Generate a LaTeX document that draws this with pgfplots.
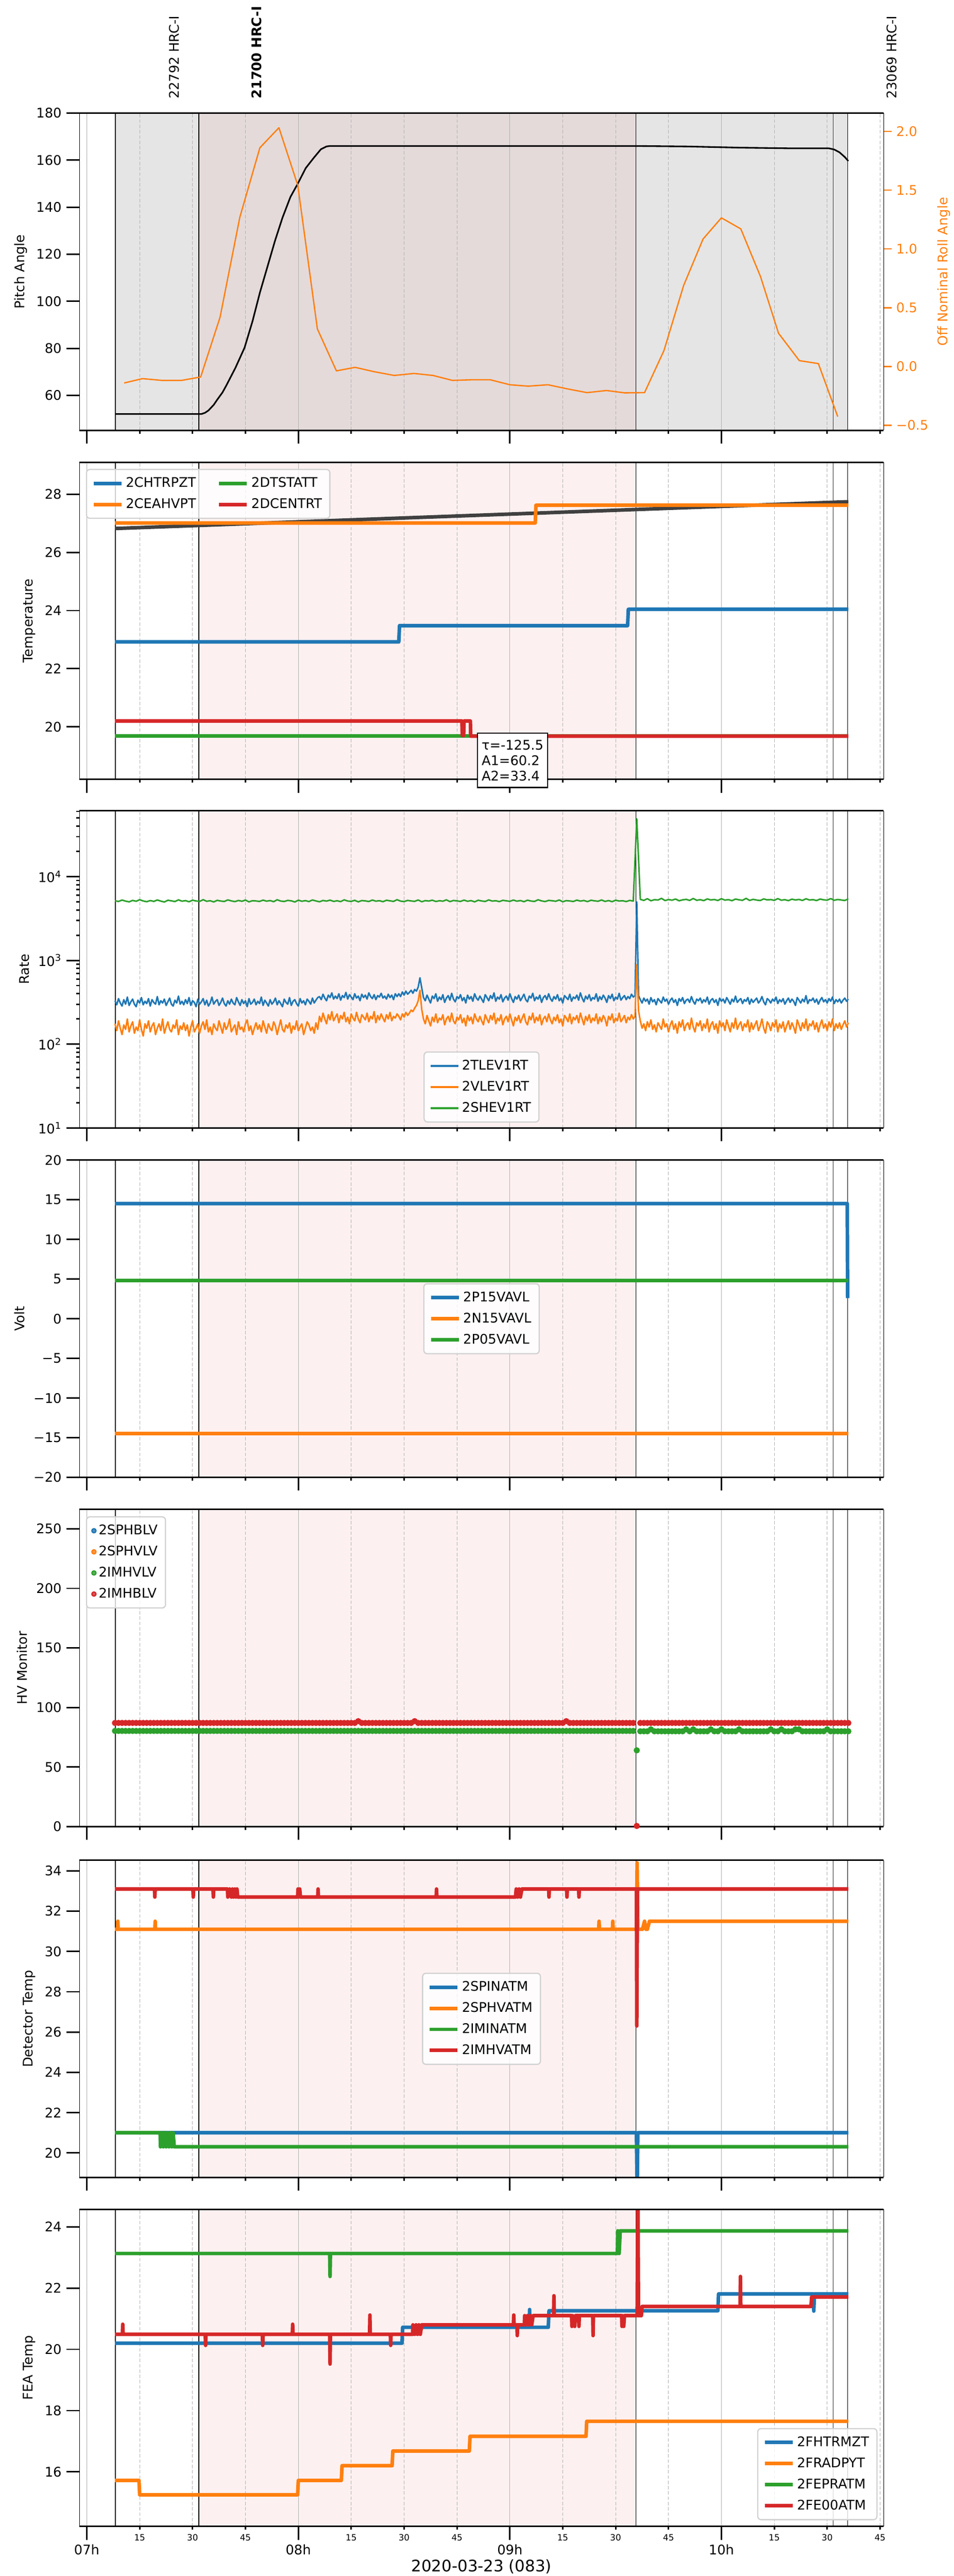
\documentclass[border=0pt]{standalone}
\usepackage{fontspec}
\setmainfont{DejaVu Sans}
\usepackage{pgfplots}
\pgfplotsset{compat=1.18}

\definecolor{tabblue}{HTML}{1F77B4}
\definecolor{taborange}{HTML}{FF7F0E}
\definecolor{tabgreen}{HTML}{2CA02C}
\definecolor{tabred}{HTML}{D62728}
\definecolor{bgpink}{RGB}{253,240,240}
\definecolor{bggray}{RGB}{229,229,229}
\definecolor{bgrose}{RGB}{228,218,218}
\definecolor{gridgray}{RGB}{176,176,176}

\newcommand{\tenpt}{\fontsize{10}{12}\selectfont}

\newcommand{\gridlines}[2]{%
  \pgfplotsinvokeforeach{0,60,120,180}{\draw[gridgray, line width=0.45pt] (axis cs:##1,#1) -- (axis cs:##1,#2);}%
  \pgfplotsinvokeforeach{15,30,45,75,90,105,135,150,165,195,210,225}{\draw[gridgray, line width=0.45pt, dash pattern=on 2.6pt off 1.4pt] (axis cs:##1,#1) -- (axis cs:##1,#2);}%
  \pgfplotsinvokeforeach{8.1,31.8,155.7,215.8}{\draw[black, line width=0.5pt] (axis cs:##1,#1) -- (axis cs:##1,#2);}%
  \draw[black!80, line width=0.4pt] (axis cs:211.7,#1) -- (axis cs:211.7,#2);%
}
\newcommand{\panelbg}[2]{\fill[bgpink] (axis cs:31.8,#1) rectangle (axis cs:155.7,#2);\gridlines{#1}{#2}}
\newcommand{\topbg}[2]{\fill[bggray] (axis cs:8.1,#1) rectangle (axis cs:215.8,#2);\fill[bgrose] (axis cs:31.8,#1) rectangle (axis cs:155.7,#2);\gridlines{#1}{#2}}

\pgfplotsset{
  panel/.style={
    scale only axis, width=606.9pt, height=239.4pt, anchor=north west,
    xmin=-2.07, xmax=226.0,
    xtick={0,60,120,180}, xticklabels={},
    minor xtick={15,30,45,75,90,105,135,150,165,195,210,225},
    tick align=outside, xtick pos=bottom, ytick pos=left,
    major tick length=10pt, minor tick length=2.5pt,
    every tick/.style={black, line width=1.1pt},
    separate axis lines,
    x axis line style={line width=1.1pt},
    y axis line style={line width=0.4pt},
    tick label style={font=\tenpt},
    label style={font=\tenpt},
    /pgf/number format/assume math mode=true,
    axis on top,
    every axis plot/.append style={line join=round},
    legend cell align=left,
    legend image code/.code={\draw[##1] (0pt,0pt) -- (21pt,0pt);},
    legend style={draw=black!18, rounded corners=2.5pt, fill=white, fill opacity=0.8, text opacity=1, line width=0.9pt, font=\tenpt, row sep=3pt, inner sep=4pt},
  }
}

\begin{document}
\begin{tikzpicture}
\path[use as bounding box] (0,0) rectangle (720pt,-1944pt);

% observation labels
\node[rotate=90, anchor=west, font=\tenpt] at (131.4pt,-78.1pt) {22792 HRC-I};
\node[rotate=90, anchor=west, font=\tenpt\bfseries] at (193.7pt,-78.1pt) {21700 HRC-I};
\node[rotate=90, anchor=west, font=\tenpt] at (673.2pt,-78.1pt) {23069 HRC-I};

% ---------------- Panel 1: pitch ----------------
\begin{axis}[panel, at={(60pt,-85.3pt)}, ymin=45.2, ymax=180, ytick={60,80,...,180}, ylabel={Pitch Angle}]
\topbg{45.2}{180}
\addplot[black, line width=1.2pt, forget plot] coordinates {
(8,52.1)(32.5,52.1)(33.5,52.6)(34.5,53.6)(36,56)(37,58.2)(38.5,61.3)(39.6,64.3)(42.15,71.7)(44.75,80.3)(47,91.5)(49.1,103.7)(51.3,115)(53.4,125.8)(55.5,135.5)(57.75,144.3)(59.85,150)(62.1,156.6)(64.4,161)(66.4,164.6)(68,165.8)(69,166)(156,166)(170,165.8)(185,165.3)(200,165)(210.5,165)(212,164.5)(213.5,163.3)(215,161.3)(216,159.6)};
\end{axis}
\begin{axis}[panel, at={(60pt,-85.3pt)}, ymin=-0.542, ymax=2.155, axis x line=none, axis y line*=right, ytick pos=right,
  ytick={-0.5,0,0.5,1,1.5,2}, yticklabels={−0.5,0.0,0.5,1.0,1.5,2.0},
  yticklabel style={taborange}, ylabel={Off Nominal Roll Angle}, ylabel style={taborange},
  major tick length=6pt, every tick/.style={taborange, line width=1pt}]
\addplot[taborange, line width=1pt, forget plot] coordinates {
(10.6,-0.14)(15.8,-0.103)(21.3,-0.118)(26.9,-0.118)(32.3,-0.089)(37.8,0.419)(43.4,1.268)(49.1,1.86)(54.5,2.03)(59.85,1.54)(65.4,0.32)(70.8,-0.037)(76.1,-0.007)(81.5,-0.044)(87.2,-0.076)(92.8,-0.059)(98.2,-0.076)(103.7,-0.118)(108.9,-0.113)(114.5,-0.113)(120.0,-0.155)(125.2,-0.167)(130.8,-0.155)(136.3,-0.19)(141.9,-0.222)(147.4,-0.204)(152.6,-0.224)(158.2,-0.222)(163.7,0.135)(169.3,0.69)(174.8,1.084)(180.0,1.264)(185.5,1.17)(191.1,0.764)(196.2,0.283)(202.1,0.05)(207.5,0.025)(213.0,-0.426)};
\end{axis}

% ---------------- Panel 2: temperature ----------------
\begin{axis}[panel, at={(60pt,-348.8pt)}, ymin=18.19, ymax=29.1, ytick={20,22,...,28}, ylabel={Temperature},
  legend columns=2, legend style={at={(0.008,0.979)}, anchor=north west, /tikz/every even column/.append style={column sep=14pt}}]
\panelbg{18.19}{29.1}
\addplot[black!75, line width=2.7pt, forget plot] coordinates {(8,26.82)(216,27.74)};
\addplot[tabblue, line width=2.7pt, forget plot] coordinates {(8,22.92)(88.5,22.92)(88.7,23.48)(153.4,23.48)(153.6,24.04)(216,24.04)};
\addplot[taborange, line width=2.7pt, forget plot] coordinates {(8,27.01)(127.2,27.01)(127.4,27.62)(216,27.62)};
\addplot[tabgreen, line width=2.7pt, forget plot] coordinates {(8,19.69)(216,19.69)};
\addplot[tabred, line width=2.7pt, forget plot] coordinates {(8,20.2)(106.4,20.2)(106.5,19.7)(106.9,19.7)(107,20.2)(108.8,20.2)(108.9,19.68)(216,19.68)};
\coordinate (ann) at (axis cs:110.7,19.8);
\addlegendimage{tabblue, line width=2.7pt}\addlegendentry{2CHTRPZT}
\addlegendimage{tabgreen, line width=2.7pt}\addlegendentry{2DTSTATT}
\addlegendimage{taborange, line width=2.7pt}\addlegendentry{2CEAHVPT}
\addlegendimage{tabred, line width=2.7pt}\addlegendentry{2DCENTRT}
\end{axis}
\node[draw=black, line width=0.9pt, fill=white, anchor=north west, align=left, inner xsep=3pt, inner ysep=5pt, font=\fontsize{10}{11.7}\selectfont] at (ann) {τ=-125.5\\A1=60.2\\A2=33.4};

% ---------------- Panel 3: rate ----------------
\begin{axis}[panel, at={(60pt,-611.8pt)}, ymode=log, log basis y=10, ymin=10, ymax=61200, ylabel={Rate},
  yticklabel={10\textsuperscript{\pgfmathparse{int(round(\tick))}\pgfmathresult}},
  legend style={at={(0.5,0.017)}, anchor=south}]
\panelbg{10}{61200}
\addplot[tabblue, line width=1.15pt, forget plot] table[header=false, row sep=\\, x expr=\coordindex*0.5+8, y index=0] {
330\\295\\350\\310\\285\\340\\300\\365\\290\\320\\345\\300\\280\\335\\310\\360\\295\\325\\305\\350\\
285\\340\\315\\300\\370\\295\\330\\310\\345\\290\\320\\355\\300\\285\\335\\310\\375\\300\\325\\295\\
340\\305\\360\\290\\330\\315\\280\\345\\300\\320\\350\\295\\335\\285\\310\\365\\300\\325\\340\\290\\
315\\355\\305\\285\\330\\300\\345\\310\\295\\360\\320\\290\\340\\305\\330\\280\\350\\300\\315\\345\\
295\\325\\305\\365\\290\\335\\310\\285\\340\\300\\320\\355\\295\\330\\305\\280\\345\\315\\300\\360\\
290\\325\\340\\305\\285\\350\\310\\330\\295\\345\\325\\300\\355\\310\\335\\360\\
370\\340\\395\\355\\330\\385\\360\\410\\345\\375\\350\\400\\335\\380\\360\\415\\345\\390\\365\\340\\
400\\355\\375\\330\\395\\360\\385\\345\\410\\370\\350\\390\\340\\380\\365\\405\\355\\375\\345\\395\\
360\\385\\340\\400\\370\\
400\\370\\420\\385\\430\\395\\415\\440\\405\\450\\430\\480\\
620\\470\\
360\\330\\385\\345\\310\\375\\350\\400\\325\\365\\340\\390\\315\\355\\380\\335\\405\\345\\320\\370\\
350\\390\\330\\360\\310\\385\\345\\370\\325\\400\\355\\335\\375\\345\\315\\390\\360\\330\\380\\350\\
410\\325\\365\\345\\390\\320\\355\\375\\335\\400\\350\\315\\370\\345\\385\\330\\360\\395\\340\\320\\
375\\355\\405\\330\\365\\345\\385\\315\\360\\380\\340\\400\\350\\325\\370\\345\\390\\330\\355\\310\\
380\\360\\340\\395\\325\\365\\350\\385\\335\\410\\355\\320\\375\\345\\390\\330\\360\\345\\400\\325\\
370\\340\\385\\355\\315\\380\\350\\395\\330\\365\\345\\405\\335\\360\\380\\340\\370\\350\\395\\365\\
380\\
5000\\
380\\340\\310\\355\\325\\345\\300\\360\\320\\340\\295\\350\\330\\310\\365\\325\\345\\300\\335\\355\\
315\\340\\290\\350\\325\\360\\305\\335\\345\\315\\370\\325\\300\\345\\330\\355\\310\\340\\320\\365\\
300\\335\\350\\315\\340\\290\\355\\325\\345\\310\\360\\330\\300\\345\\320\\375\\315\\335\\350\\305\\
340\\325\\360\\300\\345\\315\\335\\355\\310\\330\\370\\320\\295\\350\\335\\310\\345\\325\\365\\305\\
340\\320\\350\\300\\330\\355\\315\\345\\325\\290\\360\\335\\310\\345\\320\\380\\305\\340\\330\\355\\
315\\345\\300\\335\\360\\320\\340\\310\\350\\325\\365\\305\\340\\320\\345\\310\\335\\355\\325\\345\\
};
\addplot[taborange, line width=1.15pt, forget plot] table[header=false, row sep=\\, x expr=\coordindex*0.5+8, y index=0] {
175\\145\\190\\155\\130\\170\\150\\200\\140\\165\\185\\135\\160\\145\\195\\150\\125\\175\\155\\190\\
140\\165\\180\\130\\155\\175\\145\\200\\135\\160\\185\\150\\140\\170\\155\\195\\130\\165\\150\\180\\
145\\170\\125\\160\\190\\140\\155\\175\\135\\165\\185\\150\\195\\140\\160\\130\\175\\155\\145\\190\\
160\\135\\180\\150\\165\\200\\140\\155\\170\\130\\185\\150\\160\\140\\175\\195\\145\\165\\130\\155\\
180\\150\\170\\140\\190\\160\\135\\175\\155\\145\\185\\165\\130\\160\\195\\150\\140\\170\\155\\180\\
135\\165\\150\\190\\145\\160\\175\\130\\155\\185\\170\\145\\160\\135\\180\\150\\
215\\185\\235\\200\\175\\225\\195\\245\\190\\210\\230\\180\\220\\200\\240\\185\\210\\175\\230\\205\\
190\\240\\200\\180\\225\\210\\195\\235\\185\\215\\200\\245\\180\\220\\195\\230\\205\\185\\225\\200\\
240\\190\\215\\205\\230\\
215\\195\\230\\210\\240\\220\\235\\255\\245\\270\\290\\330\\
440\\260\\
200\\175\\220\\190\\165\\210\\185\\230\\180\\205\\195\\225\\170\\200\\215\\185\\235\\190\\175\\210\\
195\\225\\180\\205\\165\\220\\190\\210\\175\\230\\200\\185\\215\\190\\170\\225\\200\\180\\220\\195\\
235\\175\\205\\190\\225\\170\\200\\215\\185\\230\\195\\165\\210\\190\\220\\180\\205\\230\\185\\170\\
215\\195\\235\\180\\210\\190\\225\\170\\200\\215\\185\\230\\195\\175\\210\\190\\225\\180\\200\\165\\
220\\205\\185\\230\\175\\210\\195\\220\\180\\235\\200\\170\\215\\190\\225\\180\\205\\190\\230\\175\\
210\\185\\220\\200\\165\\215\\195\\230\\180\\205\\190\\235\\185\\200\\220\\180\\210\\195\\225\\200\\
215\\
890\\
250\\190\\155\\175\\145\\185\\160\\195\\150\\170\\140\\180\\165\\150\\200\\160\\175\\140\\170\\190\\
150\\175\\135\\185\\160\\195\\145\\170\\180\\150\\205\\160\\140\\180\\165\\190\\145\\175\\155\\200\\
140\\170\\185\\150\\175\\135\\190\\160\\180\\145\\195\\165\\140\\180\\155\\205\\150\\170\\185\\145\\
175\\160\\195\\140\\180\\150\\170\\190\\145\\165\\200\\155\\135\\185\\170\\145\\180\\160\\195\\140\\
175\\155\\185\\140\\165\\190\\150\\180\\160\\135\\195\\170\\145\\180\\155\\200\\145\\175\\165\\190\\
150\\180\\140\\170\\195\\155\\175\\145\\185\\160\\200\\145\\175\\155\\180\\150\\170\\190\\160\\180\\
};
\addplot[tabgreen, line width=1.15pt, forget plot] table[header=false, row sep=\\, x expr=\coordindex+8, y index=0] {
5150\\5050\\5250\\5100\\5000\\5200\\5080\\5300\\5120\\5020\\5180\\5060\\5260\\5100\\4980\\5220\\5140\\5040\\5280\\5090\\
5170\\5010\\5230\\5120\\5060\\5300\\5080\\5150\\4990\\5210\\5110\\5050\\5270\\5130\\5030\\5190\\5080\\5250\\5000\\5160\\
5120\\5060\\5240\\5090\\5180\\5020\\5290\\5110\\5050\\5200\\5140\\4980\\5230\\5080\\5170\\5040\\5260\\5120\\5010\\5190\\
5100\\5240\\5060\\5150\\5030\\5280\\5110\\5070\\5210\\5000\\5180\\5130\\5050\\5250\\5090\\5160\\5020\\5220\\5140\\5060\\
5300\\5100\\5040\\5200\\5120\\5070\\5260\\5010\\5170\\5110\\5230\\5050\\5150\\5090\\5280\\5030\\5190\\5130\\5060\\5240\\
5080\\5170\\5000\\5220\\5120\\5050\\5270\\5100\\5160\\5030\\5210\\5140\\5070\\5250\\5090\\5180\\5020\\5230\\5110\\5060\\
5290\\5130\\5040\\5200\\5150\\5080\\5260\\5010\\5170\\5120\\5050\\5240\\5100\\5190\\5030\\5220\\5140\\5080\\5260\\5060\\
5180\\5020\\5230\\5110\\5150\\5040\\5200\\5100\\
49000\\
5350\\5200\\5450\\5150\\5300\\5250\\5500\\5180\\5320\\5230\\5400\\5150\\5280\\5350\\5200\\5480\\5220\\5300\\5170\\5420\\
5260\\5330\\5190\\5450\\5240\\5310\\5160\\5400\\5280\\5220\\5500\\5200\\5350\\5250\\5180\\5420\\5270\\5320\\5210\\5460\\
5230\\5300\\5170\\5380\\5260\\5340\\5200\\5440\\5250\\5310\\5180\\5400\\5280\\5230\\5470\\5220\\5330\\5260\\5190\\5420\\
};
\addlegendimage{tabblue, line width=1.6pt}\addlegendentry{2TLEV1RT}
\addlegendimage{taborange, line width=1.6pt}\addlegendentry{2VLEV1RT}
\addlegendimage{tabgreen, line width=1.6pt}\addlegendentry{2SHEV1RT}
\end{axis}

% ---------------- Panel 4: volt ----------------
\begin{axis}[panel, at={(60pt,-875.5pt)}, ymin=-20, ymax=20, ytick={-20,-15,...,20},
  yticklabels={−20,−15,−10,−5,0,5,10,15,20}, ylabel={Volt},
  legend style={at={(0.5,0.5)}, anchor=center}]
\panelbg{-20}{20}
\addplot[tabblue, line width=2.7pt, forget plot] coordinates {(8,14.53)(215.7,14.53)(215.8,2.6)};
\addplot[taborange, line width=2.7pt, forget plot] coordinates {(8,-14.47)(216,-14.47)};
\addplot[tabgreen, line width=2.7pt, forget plot] coordinates {(8,4.84)(216,4.84)};
\addlegendimage{tabblue, line width=2.7pt}\addlegendentry{2P15VAVL}
\addlegendimage{taborange, line width=2.7pt}\addlegendentry{2N15VAVL}
\addlegendimage{tabgreen, line width=2.7pt}\addlegendentry{2P05VAVL}
\end{axis}

% ---------------- Panel 5: HV monitor ----------------
\begin{axis}[panel, at={(60pt,-1139.0pt)}, ymin=0, ymax=266.4, ytick={0,50,...,250}, ylabel={HV Monitor},
  legend image code/.code={\draw[#1] plot coordinates {(10pt,0pt)};},
  legend style={at={(0.008,0.978)}, anchor=north west}]
\panelbg{0}{266.4}
\addplot[tabgreen, only marks, mark=*, mark size=2.15pt, forget plot] table[header=false, row sep=\\, x expr=\coordindex+8, y index=0] {
80.3\\80.3\\80.3\\80.3\\80.3\\80.3\\80.3\\80.3\\80.3\\80.3\\
80.3\\80.3\\80.3\\80.3\\80.3\\80.3\\80.3\\80.3\\80.3\\80.3\\
80.3\\80.3\\80.3\\80.3\\80.3\\80.3\\80.3\\80.3\\80.3\\80.3\\
80.3\\80.3\\80.3\\80.3\\80.3\\80.3\\80.3\\80.3\\80.3\\80.3\\
80.3\\80.3\\80.3\\80.3\\80.3\\80.3\\80.3\\80.3\\80.3\\80.3\\
80.3\\80.3\\80.3\\80.3\\80.3\\80.3\\80.3\\80.3\\80.3\\80.3\\
80.3\\80.3\\80.3\\80.3\\80.3\\80.3\\80.3\\80.3\\80.3\\80.3\\
80.3\\80.3\\80.3\\80.3\\80.3\\80.3\\80.3\\80.3\\80.3\\80.3\\
80.3\\80.3\\80.3\\80.3\\80.3\\80.3\\80.3\\80.3\\80.3\\80.3\\
80.3\\80.3\\80.3\\80.3\\80.3\\80.3\\80.3\\80.3\\80.3\\80.3\\
80.3\\80.3\\80.3\\80.3\\80.3\\80.3\\80.3\\80.3\\80.3\\80.3\\
80.3\\80.3\\80.3\\80.3\\80.3\\80.3\\80.3\\80.3\\80.3\\80.3\\
80.3\\80.3\\80.3\\80.3\\80.3\\80.3\\80.3\\80.3\\80.3\\80.3\\
80.3\\80.3\\80.3\\80.3\\80.3\\80.3\\80.3\\80.3\\80.3\\80.3\\
80.3\\80.3\\80.3\\80.3\\80.3\\80.3\\80.3\\80.3\\
64\\
80\\80\\80\\81.6\\80\\80\\80\\80\\80\\80\\
80\\80\\80\\81.6\\80\\81.6\\80\\80\\80\\80\\
81.6\\80\\80\\81.6\\80\\80\\80\\80\\81.6\\80\\
80\\80\\80\\80\\80\\80\\80\\81.6\\80\\80\\
81.6\\80\\80\\80\\81.6\\81.6\\80\\80\\80\\80\\
80\\80\\80\\81.6\\80\\80\\80\\80\\80\\80\\
};
\addplot[tabred, only marks, mark=*, mark size=2.15pt, forget plot] table[header=false, row sep=\\, x expr=\coordindex+8, y index=0] {
87\\87\\87\\87\\87\\87\\87\\87\\87\\87\\
87\\87\\87\\87\\87\\87\\87\\87\\87\\87\\
87\\87\\87\\87\\87\\87\\87\\87\\87\\87\\
87\\87\\87\\87\\87\\87\\87\\87\\87\\87\\
87\\87\\87\\87\\87\\87\\87\\87\\87\\87\\
87\\87\\87\\87\\87\\87\\87\\87\\87\\87\\
87\\87\\87\\87\\87\\87\\87\\87\\87\\
88.5\\
87\\87\\87\\87\\87\\87\\87\\87\\87\\87\\
87\\87\\87\\87\\87\\
88.5\\
87\\87\\87\\87\\87\\87\\87\\87\\87\\87\\
87\\87\\87\\87\\87\\87\\87\\87\\87\\87\\
87\\87\\87\\87\\87\\87\\87\\87\\87\\87\\
87\\87\\87\\87\\87\\87\\87\\87\\87\\87\\
87\\87\\
88.5\\
87\\87\\87\\87\\87\\87\\87\\87\\87\\87\\
87\\87\\87\\87\\87\\87\\87\\87\\87\\
0.5\\
87\\87\\87\\87\\87\\87\\87\\87\\87\\87\\
87\\87\\87\\87\\87\\87\\87\\87\\87\\87\\
87\\87\\87\\87\\87\\87\\87\\87\\87\\87\\
87\\87\\87\\87\\87\\87\\87\\87\\87\\87\\
87\\87\\87\\87\\87\\87\\87\\87\\87\\87\\
87\\87\\87\\87\\87\\87\\87\\87\\87\\87\\
};
\addlegendimage{tabblue, only marks, mark=*, mark size=1.6pt}\addlegendentry{2SPHBLV}
\addlegendimage{taborange, only marks, mark=*, mark size=1.6pt}\addlegendentry{2SPHVLV}
\addlegendimage{tabgreen, only marks, mark=*, mark size=1.6pt}\addlegendentry{2IMHVLV}
\addlegendimage{tabred, only marks, mark=*, mark size=1.6pt}\addlegendentry{2IMHBLV}
\end{axis}

% ---------------- Panel 6: detector temp ----------------
\begin{axis}[panel, at={(60pt,-1403.8pt)}, ymin=18.78, ymax=34.53, ytick={20,22,...,34}, ylabel={Detector Temp},
  legend style={at={(0.5,0.5)}, anchor=center}]
\panelbg{18.78}{34.53}
\addplot[tabblue, line width=2.7pt, forget plot] coordinates {(8,21.0)(155.9,21.0)(156.1,18.0)(156.3,21.0)(216,21.0)};
\addplot[taborange, line width=2.7pt, forget plot] coordinates {(8,31.1)(8.7,31.1)(8.8,31.5)(8.9,31.1)(19.3,31.1)(19.4,31.5)(19.5,31.1)(145.2,31.1)(145.3,31.5)(145.4,31.1)(149.1,31.1)(149.2,31.5)(149.3,31.1)(155.9,31.1)(156.1,34.4)(156.3,31.1)(157.6,31.1)(158.2,31.5)(158.6,31.1)(159.0,31.1)(159.6,31.5)(216,31.5)};
\addplot[tabgreen, line width=2.7pt, forget plot] coordinates {(8,21.0)(20.8,21.0)(20.9,20.3)(21.3,21.0)(21.7,20.3)(22.1,21.0)(22.5,20.3)(22.9,21.0)(23.3,20.3)(23.7,21.0)(24.1,20.3)(24.5,21.0)(24.8,20.3)(216,20.3)};
\addplot[tabred, line width=2.7pt, forget plot] coordinates {(8,33.1)(19.2,33.1)(19.3,32.7)(19.4,33.1)(30.1,33.1)(30.2,32.7)(30.3,33.1)(35.8,33.1)(35.9,32.7)(36.0,33.1)(39.9,33.1)(40.0,32.7)(40.5,33.1)(41.0,32.7)(41.3,33.1)(41.6,32.7)(42.0,33.1)(42.3,32.7)(42.6,33.1)(42.8,32.7)(59.8,32.7)(59.9,33.1)(60.1,32.7)(60.4,33.1)(60.6,32.7)(65.5,32.7)(65.6,33.1)(65.7,32.7)(99.1,32.7)(99.2,33.1)(99.3,32.7)(121.6,32.7)(121.8,33.1)(122.2,32.7)(122.6,33.1)(123.0,32.7)(123.4,33.1)(131.0,33.1)(131.1,32.7)(131.2,33.1)(136.1,33.1)(136.2,32.7)(136.3,33.1)(139.5,33.1)(139.6,32.7)(139.7,33.1)(155.9,33.1)(156.0,26.3)(156.2,33.1)(216,33.1)};
\addlegendimage{tabblue, line width=2.7pt}\addlegendentry{2SPINATM}
\addlegendimage{taborange, line width=2.7pt}\addlegendentry{2SPHVATM}
\addlegendimage{tabgreen, line width=2.7pt}\addlegendentry{2IMINATM}
\addlegendimage{tabred, line width=2.7pt}\addlegendentry{2IMHVATM}
\end{axis}

% ---------------- Panel 7: FEA temp ----------------
\begin{axis}[panel, at={(60pt,-1667.2pt)}, ymin=14.216, ymax=24.575, ytick={16,18,...,24}, ylabel={FEA Temp},
  xticklabels={07h,08h,09h,10h},
  extra x ticks={15,30,45,75,90,105,135,150,165,195,210,225},
  extra x tick labels={15,30,45,15,30,45,15,30,45,15,30,45},
  extra x tick style={major tick length=2.5pt, tick label style={font=\fontsize{6.5}{7}\selectfont}},
  xlabel={2020-03-23 (083)}, xlabel style={font=\fontsize{12}{14}\selectfont, at={(axis description cs:0.5,0)}, anchor=center, yshift=-30.5pt},
  legend style={at={(0.9925,0.0196)}, anchor=south east}]
\panelbg{14.216}{24.575}
\addplot[tabblue, line width=2.7pt, forget plot] coordinates {(8,20.2)(89.4,20.2)(89.6,20.72)(125.5,20.72)(125.6,21.3)(125.7,20.72)(130.9,20.72)(131.1,21.26)(179.0,21.26)(179.2,21.81)(206.1,21.81)(206.2,21.25)(206.4,21.81)(216,21.81)};
\addplot[taborange, line width=2.7pt, forget plot] coordinates {(8,15.72)(14.8,15.72)(15.0,15.25)(59.8,15.25)(60.0,15.72)(72.2,15.72)(72.4,16.2)(86.6,16.2)(86.8,16.68)(108.5,16.68)(108.7,17.16)(141.6,17.16)(141.8,17.65)(216,17.65)};
\addplot[tabgreen, line width=2.7pt, forget plot] coordinates {(8,23.13)(68.9,23.13)(69.0,22.38)(69.1,23.13)(150.5,23.13)(150.6,23.87)(151.0,23.13)(151.3,23.87)(216,23.87)};
\addplot[tabred, line width=2.7pt, forget plot] coordinates {(8,20.49)(10.1,20.49)(10.2,20.82)(10.3,20.49)(33.6,20.49)(33.7,20.13)(33.8,20.49)(49.8,20.49)(49.9,20.13)(50.0,20.49)(58.3,20.49)(58.4,20.82)(58.5,20.49)(68.9,20.49)(69.0,19.52)(69.1,20.49)(80.2,20.49)(80.3,21.12)(80.4,20.49)(86.1,20.49)(86.2,20.13)(86.3,20.49)(92.4,20.49)(92.5,20.8)(93.0,20.49)(93.4,20.8)(93.8,20.49)(94.2,20.8)(94.6,20.49)(95.0,20.8)(121.0,20.8)(121.1,21.12)(121.2,20.8)(122.0,20.8)(122.1,20.45)(122.2,20.8)(124.1,20.8)(124.2,21.1)(124.6,20.8)(125.0,21.1)(125.4,20.8)(125.8,21.1)(126.2,20.8)(126.6,21.1)(132.4,21.1)(132.5,21.75)(132.6,21.1)(137.5,21.1)(137.6,20.75)(137.8,21.1)(138.4,20.75)(138.6,21.1)(139.5,21.1)(139.6,20.75)(139.7,21.1)(143.5,21.1)(143.6,20.45)(143.7,21.1)(151.7,21.1)(151.8,20.75)(152.0,21.1)(152.3,20.75)(152.5,21.1)(156.1,21.1)(156.3,25.5)(156.5,21.1)(157.3,21.1)(157.5,21.4)(185.3,21.4)(185.4,22.38)(185.5,21.4)(205.4,21.4)(205.6,21.71)(216,21.71)};
\addlegendimage{tabblue, line width=2.7pt}\addlegendentry{2FHTRMZT}
\addlegendimage{taborange, line width=2.7pt}\addlegendentry{2FRADPYT}
\addlegendimage{tabgreen, line width=2.7pt}\addlegendentry{2FEPRATM}
\addlegendimage{tabred, line width=2.7pt}\addlegendentry{2FE00ATM}
\end{axis}
\end{tikzpicture}
\end{document}
